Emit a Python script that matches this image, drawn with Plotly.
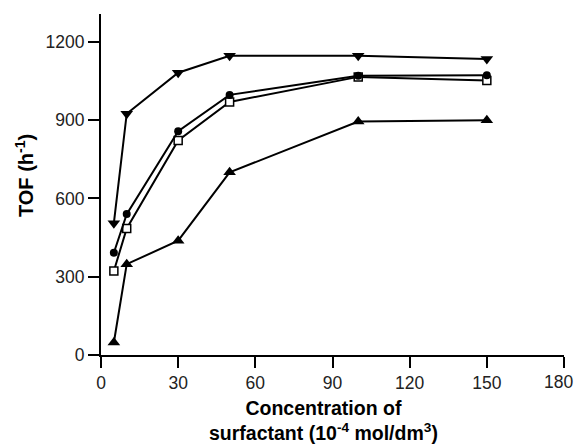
import plotly.graph_objects as go

conc = [5, 10, 30, 50, 100, 150]
tof_down = [505, 925, 1082, 1147, 1147, 1135]
tof_circle = [392, 540, 858, 997, 1070, 1072]
tof_square = [322, 485, 822, 970, 1066, 1052]
tof_up = [48, 348, 438, 700, 895, 900]

x_ticks = [0, 30, 60, 90, 120, 150, 180]
x_tick_labels = ["0", "30", "60", "90", "120", "150", "180"]
y_ticks = [0, 300, 600, 900, 1200]

FONT = "Liberation Sans, Arial, sans-serif"
TICK_FONT = dict(size=17.5, family=FONT, color="#222")

fig = go.Figure()
line = dict(color="black", width=2)
fig.add_trace(go.Scatter(x=conc, y=tof_up, mode="lines+markers", line=line,
                         marker=dict(symbol="triangle-up", size=11, color="black")))
fig.add_trace(go.Scatter(x=conc, y=tof_square, mode="lines+markers", line=line,
                         marker=dict(symbol="square", size=8, color="white",
                                     line=dict(color="black", width=1.5))))
fig.add_trace(go.Scatter(x=conc, y=tof_circle, mode="lines+markers", line=line,
                         marker=dict(symbol="circle", size=8, color="black")))
fig.add_trace(go.Scatter(x=conc, y=tof_down, mode="lines+markers", line=line,
                         marker=dict(symbol="triangle-down", size=11, color="black")))

# last tick label is drawn as an annotation nudged left so it stays inside the page
shown_labels = x_tick_labels[:-1] + [""]

fig.update_layout(
    width=575, height=446,
    margin=dict(l=101, r=11, t=14, b=91, autoexpand=False),
    paper_bgcolor="white", plot_bgcolor="white",
    showlegend=False,
    font=dict(family=FONT, size=17.5, color="#222"),
    xaxis=dict(range=[0, 180], tickvals=x_ticks, ticktext=shown_labels,
               ticks="outside", ticklen=11,
               tickwidth=2, tickcolor="black", showline=True, linecolor="black",
               linewidth=2, showgrid=False, zeroline=False, automargin=False,
               tickfont=TICK_FONT),
    yaxis=dict(range=[0, 1307], tickvals=y_ticks, ticks="outside", ticklen=11,
               tickwidth=2, tickcolor="black", showline=True, linecolor="black",
               linewidth=2, showgrid=False, zeroline=False, automargin=False,
               tickfont=TICK_FONT),
    annotations=[
        dict(text=x_tick_labels[-1], xref="x", yref="paper", x=x_ticks[-1],
             y=-0.079, xanchor="center", yanchor="middle", xshift=-6,
             showarrow=False, font=TICK_FONT),
        dict(text="<b>TOF (h<sup>-1</sup>)</b>", xref="paper", yref="paper",
             x=-0.164, y=0.525, xanchor="center", yanchor="middle",
             textangle=-90, showarrow=False, font=dict(size=20, family=FONT, color="black")),
        dict(text="<b>Concentration of<br>surfactant (10<sup>-4</sup> mol/dm<sup>3</sup>)</b>",
             xref="paper", yref="paper", x=0.4806, y=-0.192,
             xanchor="center", yanchor="middle", showarrow=False,
             font=dict(size=19.5, family=FONT, color="black")),
    ],
)

fig.write_html("out.html")
